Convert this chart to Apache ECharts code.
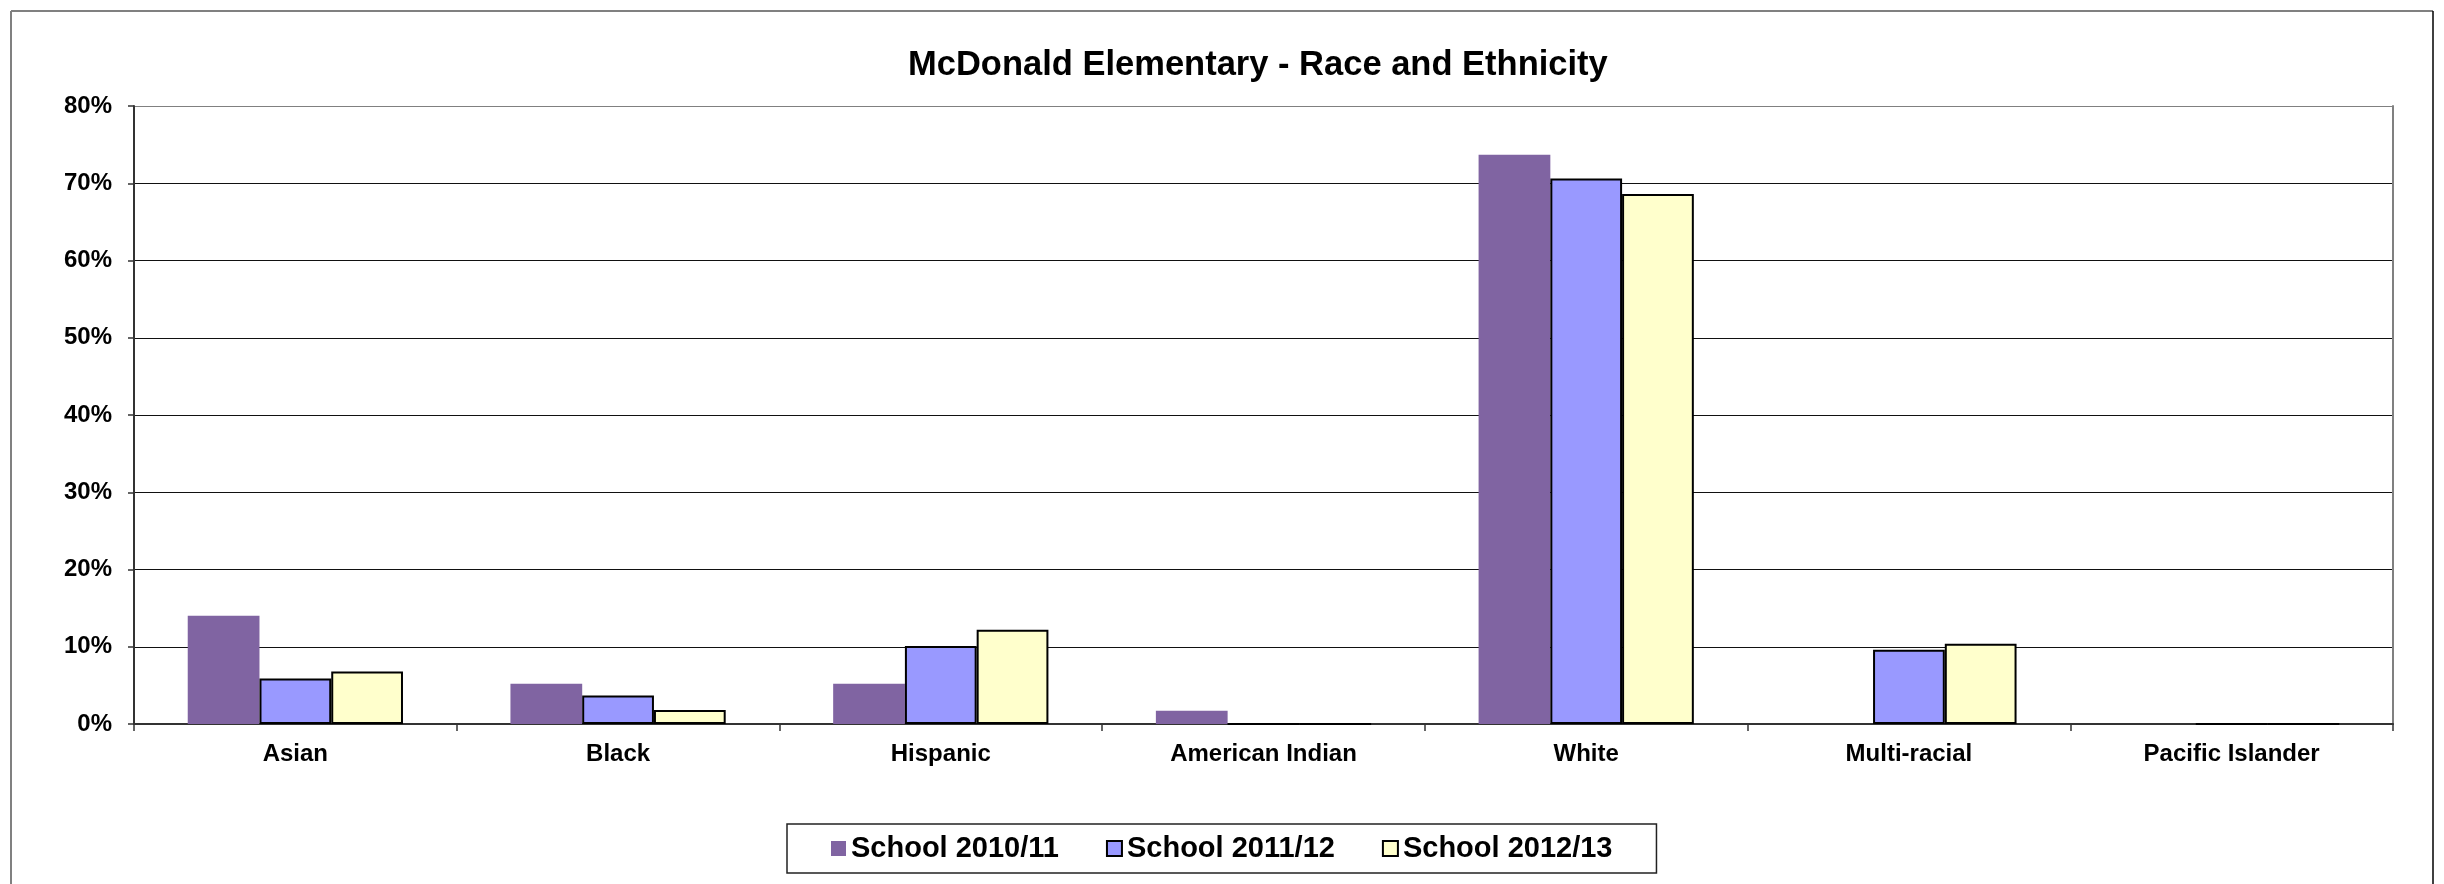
<!DOCTYPE html>
<html>
<head>
<meta charset="utf-8">
<script src="https://cdn.jsdelivr.net/npm/echarts@6/dist/echarts.min.js"></script>
<style>
html,body{margin:0;padding:0;background:#fff;}
#chart{width:2444px;height:884px;}
</style>
</head>
<body>
<div id="chart"></div>
<script>
const categories = ['Asian', 'Black', 'Hispanic', 'American Indian', 'White', 'Multi-racial', 'Pacific Islander'];
const seriesNames = ['School 2010/11', 'School 2011/12', 'School 2012/13'];
const school2010 = [14.0, 5.2, 5.2, 1.7, 73.7, 0, 0];
const school2011 = [5.9, 3.7, 10.1, 0, 70.6, 9.6, 0];
const school2012 = [6.8, 1.8, 12.2, 0, 68.6, 10.4, 0];
const yTicks = [0, 10, 20, 30, 40, 50, 60, 70, 80];

const FONT = '"Liberation Sans", Arial, sans-serif';
const chart = echarts.init(document.getElementById('chart'), null, {renderer: 'canvas'});

const gridColors = yTicks.map((v, i) => i === yTicks.length - 1 ? '#808080' : '#111');

chart.setOption({
  animation: false,
  backgroundColor: '#fff',
  title: {
    text: 'McDonald Elementary - Race and Ethnicity',
    left: 908,
    top: 48,
    padding: 0,
    textStyle: {fontFamily: FONT, fontWeight: 'bold', fontSize: 34.5, lineHeight: 34, color: '#000'}
  },
  legend: {
    data: seriesNames,
    left: 787,
    top: 824,
    orient: 'horizontal',
    padding: [10, 44],
    itemGap: 47,
    itemWidth: 15,
    itemHeight: 15,
    itemTextGap: 7,
    icon: 'rect',
    borderColor: '#222',
    borderWidth: 1.5,
    textStyle: {fontFamily: FONT, fontWeight: 'bold', fontSize: 29, lineHeight: 29, color: '#000'}
  },
  grid: {left: 134, right: 51, top: 106, bottom: 160, containLabel: false},
  xAxis: {
    type: 'category',
    data: categories,
    axisLine: {show: true, lineStyle: {color: '#333', width: 2}},
    axisTick: {show: true, length: 7, lineStyle: {color: '#333', width: 1.5}},
    axisLabel: {fontFamily: FONT, fontWeight: 'bold', fontSize: 24, color: '#000', margin: 18, interval: 0}
  },
  yAxis: [{
    type: 'value',
    min: 0,
    max: 80,
    interval: 10,
    axisLine: {show: true, lineStyle: {color: '#333', width: 2}},
    axisTick: {show: true, length: 6, lineStyle: {color: '#333', width: 1.5}},
    axisLabel: {fontFamily: FONT, fontWeight: 'bold', fontSize: 24, color: '#000', margin: 22, formatter: '{value}%'},
    splitLine: {show: true, lineStyle: {color: gridColors, width: 1.2}}
  }, {
    type: 'value',
    position: 'right',
    min: 0,
    max: 80,
    interval: 10,
    axisLine: {show: true, lineStyle: {color: '#808080', width: 2}},
    axisTick: {show: false},
    axisLabel: {show: false},
    splitLine: {show: false}
  }],
  series: [
    {
      name: seriesNames[0], type: 'bar', data: school2010,
      barGap: '0%', barCategoryGap: '33.3%',
      itemStyle: {color: '#8064A2', borderWidth: 0}
    },
    {
      name: seriesNames[1], type: 'bar', data: school2011,
      barGap: '0%', barCategoryGap: '33.3%',
      itemStyle: {color: '#9999FF', borderColor: '#000', borderWidth: 2}
    },
    {
      name: seriesNames[2], type: 'bar', data: school2012,
      barGap: '0%', barCategoryGap: '33.3%',
      itemStyle: {color: '#FFFFCC', borderColor: '#000', borderWidth: 2}
    }
  ],
  graphic: [
    {type: 'line', silent: true, shape: {x1: 11, y1: 11, x2: 2433, y2: 11}, style: {stroke: '#808080', lineWidth: 2}},
    {type: 'line', silent: true, shape: {x1: 11, y1: 11, x2: 11, y2: 884}, style: {stroke: '#808080', lineWidth: 2}},
    {type: 'line', silent: true, shape: {x1: 2433, y1: 11, x2: 2433, y2: 884}, style: {stroke: '#000', lineWidth: 1.5}}
  ]
});
</script>
</body>
</html>
